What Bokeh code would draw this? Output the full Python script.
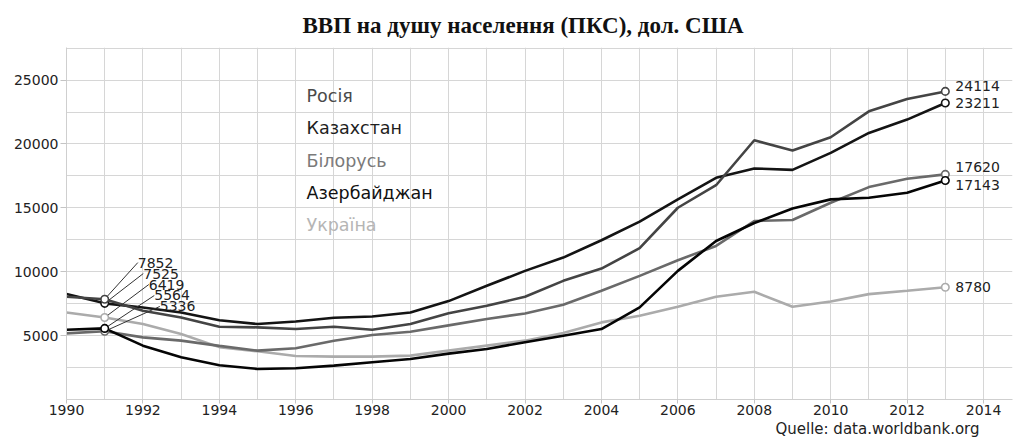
from bokeh.plotting import figure
from bokeh.models import Range1d, FixedTicker, Title
from bokeh.core.properties import value
from bokeh.embed import file_html
from bokeh.resources import INLINE

# ---------------- data ----------------
years = list(range(1990, 2014))
names = ["Росія", "Казахстан", "Білорусь", "Азербайджан", "Україна"]
russia = [8040, 7852, 6946, 6425, 5697, 5645, 5515, 5697, 5463, 5906, 6750, 7336,
          8039, 9288, 10248, 11840, 15008, 16770, 20292, 19488, 20526, 22555, 23516, 24114]
kazakhstan = [8250, 7525, 7204, 6815, 6200, 5906, 6100, 6400, 6500, 6815, 7700, 8897,
              10068, 11106, 12464, 13916, 15664, 17350, 18083, 17974, 19301, 20862, 21907, 23211]
belarus = [5175, 5336, 4862, 4605, 4200, 3824, 4006, 4605, 5046, 5307, 5800, 6296,
           6737, 7414, 8507, 9678, 10903, 12019, 13970, 14048, 15400, 16624, 17272, 17620]
azerbaijan = [5463, 5564, 4214, 3304, 2680, 2393, 2445, 2654, 2914, 3174, 3590, 3955,
              4475, 4995, 5515, 7206, 10068, 12409, 13814, 14950, 15664, 15794, 16184, 17143]
ukraine = [6815, 6419, 5906, 5124, 4100, 3772, 3408, 3356, 3356, 3434, 3824, 4214,
           4605, 5203, 6035, 6556, 7258, 8039, 8429, 7258, 7674, 8247, 8507, 8780]
series = [russia, kazakhstan, belarus, azerbaijan, ukraine]
x_ticks = list(range(1990, 2015, 2))
y_ticks = [5000, 10000, 15000, 20000, 25000]
grid_x = list(range(1990, 2015))
grid_y = list(range(0, 27501, 2500))
title_text = "ВВП на душу населення (ПКС), дол. США"
source_text = "Quelle: data.worldbank.org"

# ---------------- styles ----------------
line_colors = ["#444444", "#141414", "#6a6a6a", "#050505", "#ababab"]
legend_colors = ["#4a4a4a", "#1e1e1e", "#7a7a7a", "#111111", "#b5b5b5"]
draw_order = [4, 2, 3, 1, 0]

W, H = 1014, 437
FL, FR, FT, FB = 66, 2, 46, 38
FW = W - FL - FR
FH = H - FT - FB
X0, X1 = 1990, 1990 + FW / 38.21
Y0, Y1 = 0, 27550
px_x = FW / (X1 - X0)
px_y = FH / (Y1 - Y0)

p = figure(width=W, height=H, x_range=Range1d(X0, X1), y_range=Range1d(Y0, Y1),
           output_backend="svg", toolbar_location=None,
           min_border_left=FL, min_border_right=FR,
           min_border_top=FT, min_border_bottom=FB)
p.outline_line_color = None
p.background_fill_color = "white"
p.border_fill_color = "white"

p.title.text = title_text
p.title.align = "left"
p.title.offset = 236
p.title.vertical_align = "bottom"
p.title.standoff = 20
p.title.text_font = "Liberation Serif"
p.title.text_font_style = "bold"
p.title.text_font_size = "23px"
p.title.text_color = "#111111"

p.xgrid.ticker = FixedTicker(ticks=grid_x)
p.ygrid.ticker = FixedTicker(ticks=grid_y)
for g in (p.xgrid, p.ygrid):
    g.grid_line_color = "#d6d6d6"
    g.grid_line_width = 1

p.xaxis.ticker = FixedTicker(ticks=x_ticks)
p.yaxis.ticker = FixedTicker(ticks=y_ticks)
for ax in (p.xaxis, p.yaxis):
    ax.axis_line_color = "#cfcfcf"
    ax.major_tick_line_color = "#c4c4c4"
    ax.minor_tick_line_color = None
    ax.major_tick_in = 0
    ax.major_label_text_font = "DejaVu Sans"
    ax.major_label_text_font_size = "14px"
    ax.major_label_text_color = "#222222"
p.xaxis.major_tick_out = 4
p.xaxis.major_label_standoff = 1
p.yaxis.major_tick_out = 6
p.yaxis.major_label_standoff = 2

src = Title(text=source_text, align="right", offset=33, standoff=0,
            text_font="DejaVu Sans", text_font_style="normal",
            text_font_size="15px", text_color="#222222")
p.add_layout(src, "below")

# lines
for k in draw_order:
    p.line(years, series[k], line_color=line_colors[k], line_width=2.6)

# left (1991) labels with leader lines
first_idx = 1
order = sorted(range(5), key=lambda k: -series[k][first_idx])
top_val = series[order[0]][first_idx]
lx, ly, lt = [], [], []
for i, k in enumerate(order):
    v = series[k][first_idx]
    lx.append(years[first_idx] + (33.1 + 5.5 * i) / px_x)
    ly.append(top_val + (36.7 - 11.0 * i) / px_y)
    lt.append(str(v))
p.segment(x0=[years[first_idx]] * 5, y0=[series[k][first_idx] for k in order],
          x1=lx, y1=ly, line_color="#333333", line_width=1)
p.text(x=lx, y=ly, text=lt, text_font=value("DejaVu Sans"), text_font_size="14px",
       text_color="#222222", text_align="left", text_baseline="alphabetic")

# right (2013) labels
right_dy = [5, 0, 7, -5, 0]
rx, ry, rt = [], [], []
for k in range(5):
    v = series[k][-1]
    rx.append(years[-1] + 10 / px_x)
    ry.append(v + right_dy[k] / px_y)
    rt.append(str(v))
p.text(x=rx, y=ry, text=rt, text_font=value("DejaVu Sans"), text_font_size="14px",
       text_color="#222222", text_align="left", text_baseline="middle")

# endpoint circles
for k in draw_order:
    p.scatter([years[first_idx], years[-1]], [series[k][first_idx], series[k][-1]],
              size=7.5, fill_color="white", line_color=line_colors[k], line_width=1.6)

# legend as coloured text
LEG_LEFT_PX, LEG_TOP_PX, LEG_STEP_PX = 240, 304, 32.2
p.text(x=[X0 + LEG_LEFT_PX / px_x] * 5,
       y=[Y0 + (LEG_TOP_PX - LEG_STEP_PX * i) / px_y for i in range(5)],
       text=names, text_color=legend_colors,
       text_font=value("DejaVu Sans"), text_font_size="17.5px",
       text_align="left", text_baseline="middle")

open("out.html", "w").write(file_html(p, INLINE))
